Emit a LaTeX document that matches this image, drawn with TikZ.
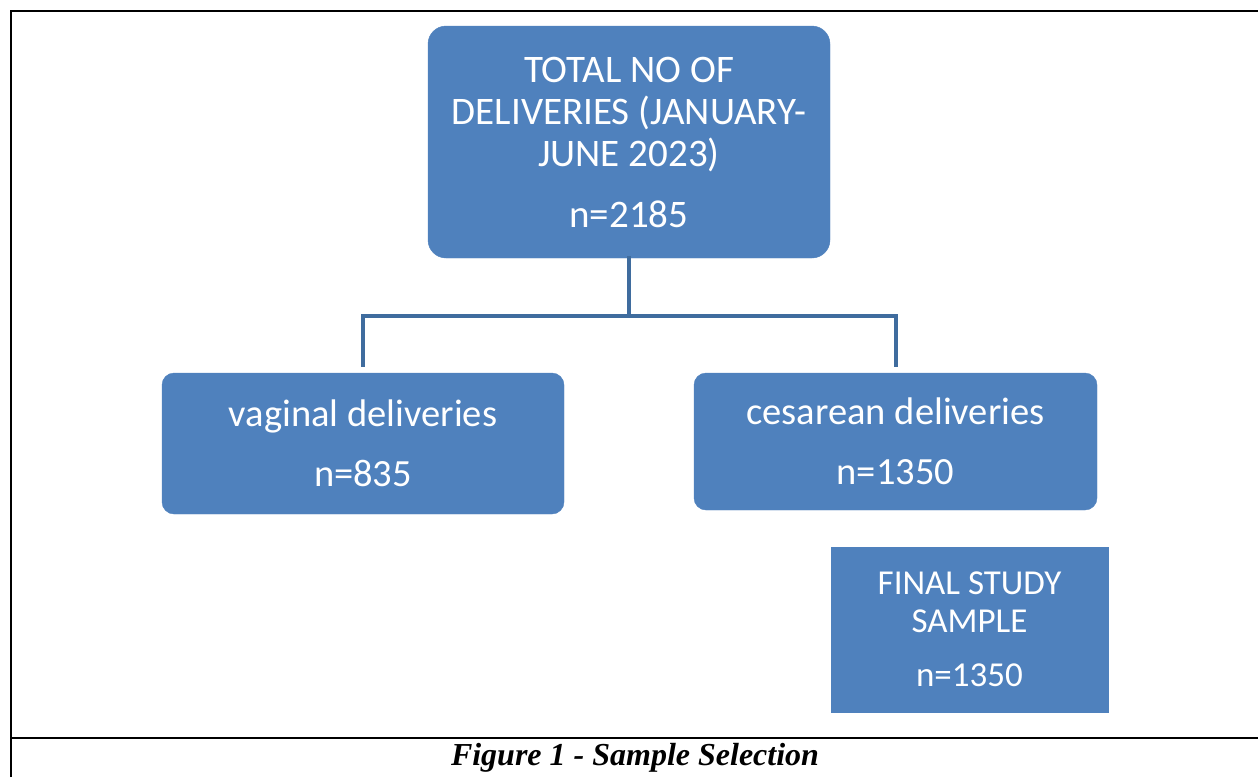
\documentclass[tikz,border=0pt]{standalone}
\usepackage{fontspec}
\setmainfont{Liberation Serif}
\newfontfamily\boxfont{Carlito}
\definecolor{boxblue}{HTML}{4F81BD}
\definecolor{linkblue}{HTML}{3F6C9E}
\begin{document}
\begin{tikzpicture}[x=1pt,y=-1pt,
    box/.style={fill=boxblue, draw=boxblue, text=white, align=center, inner sep=0pt, font=\boxfont},
    conn/.style={draw=linkblue, line width=4pt},
    frame/.style={line width=1.5pt}]
    \useasboundingbox (0,0) rectangle (1258,777);
    % page frame
    \draw[frame] (11,777) -- (11,11) -- (1258,11);
    \draw[line width=2.5pt] (11,11) -- (138,11);
    \draw[line width=2.5pt] (1133,11) -- (1258,11);
    \draw[line width=2.5pt] (11,738) -- (1258,738);
    % boxes
    \node[box, rounded corners=18pt, minimum width=402pt, minimum height=232pt,
          font=\boxfont\fontsize{39}{42}\selectfont] (total) at (629,142)
          {TOTAL NO OF\\DELIVERIES (JANUARY-\\JUNE 2023)\\[19pt]n=2185};
    \node[box, rounded corners=12pt, minimum width=402pt, minimum height=141pt,
          font=\boxfont\fontsize{38.5}{40}\selectfont] (vag) at (363,443.5)
          {vaginal deliveries\\[20pt]n=835};
    \node[box, rounded corners=12pt, minimum width=403pt, minimum height=137pt,
          font=\boxfont\fontsize{38.5}{40}\selectfont] (ces) at (895.5,441.5)
          {cesarean deliveries\\[20pt]n=1350};
    \node[box, minimum width=277pt, minimum height=165pt,
          font=\boxfont\fontsize{35}{38}\selectfont] (final) at (969.5,629.5)
          {FINAL STUDY\\SAMPLE\\[16pt]n=1350};
    % connectors
    \coordinate (split) at (629,316);
    \draw[conn] ([yshift=2pt]total.south) -- (split);
    \draw[conn, shorten >=6pt] (split) -| (vag.north);
    \draw[conn, shorten >=6pt] (split) -| (ces.north);
    % caption
    \node[font=\fontsize{32}{36}\selectfont\bfseries\itshape] (caption) at (635,758)
        {Figure 1 - Sample Selection};
\end{tikzpicture}
\end{document}
